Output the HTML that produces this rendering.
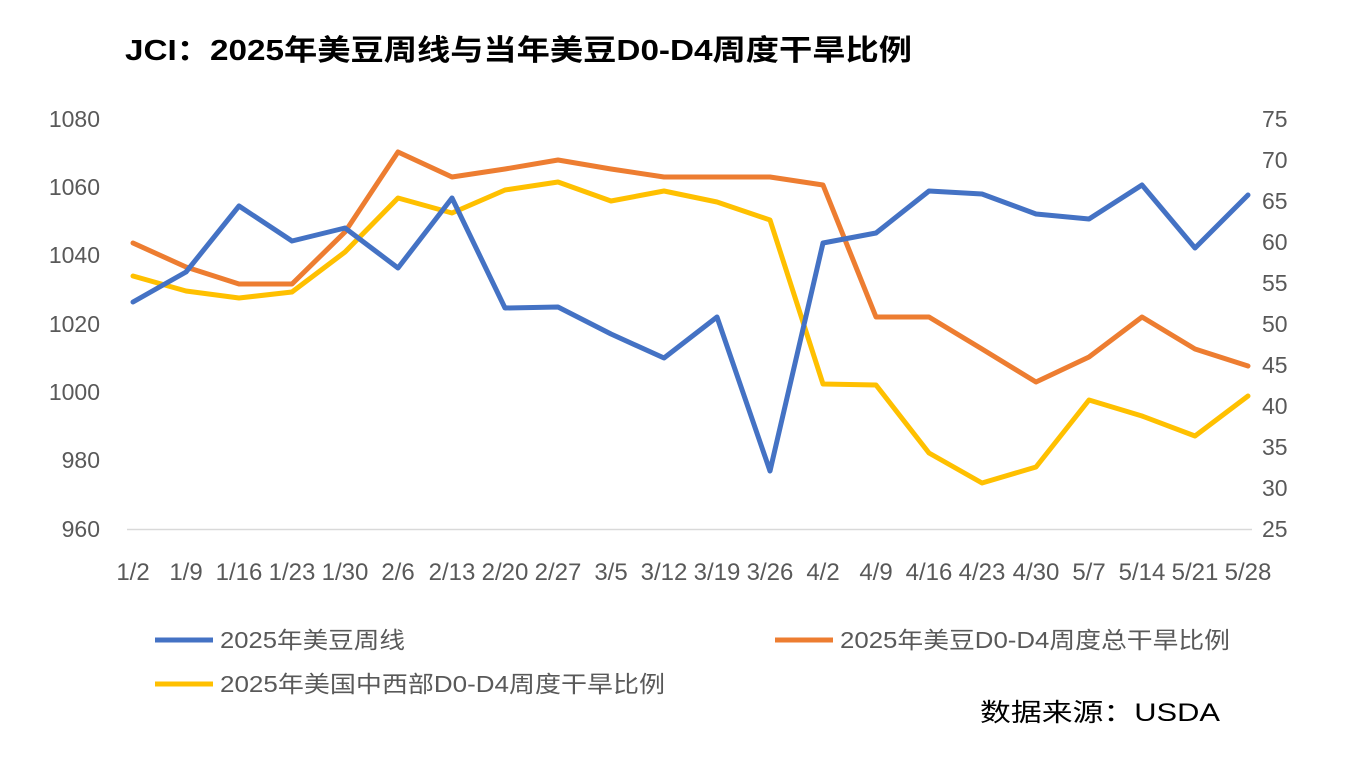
<!DOCTYPE html>
<html><head><meta charset="utf-8"><style>
body{margin:0;background:#fff;}
svg{display:block;font-family:"Liberation Sans","Noto Sans CJK SC",sans-serif;}
</style></head><body>
<svg width="1368" height="765" viewBox="0 0 1368 765">
<rect width="1368" height="765" fill="#fff"/>
<text x="125" y="60" font-size="29" font-weight="bold" fill="#000" textLength="787" lengthAdjust="spacingAndGlyphs">JCI：2025年美豆周线与当年美豆D0-D4周度干旱比例</text>
<line x1="127" y1="529.5" x2="1252" y2="529.5" stroke="#d9d9d9" stroke-width="1.5"/>
<g font-size="23" fill="#595959" text-anchor="end">
<text x="100" y="127">1080</text><text x="100" y="195">1060</text><text x="100" y="263">1040</text><text x="100" y="332">1020</text><text x="100" y="400">1000</text><text x="100" y="468">980</text><text x="100" y="537">960</text>
</g>
<g font-size="23" fill="#595959" text-anchor="start">
<text x="1262" y="127">75</text><text x="1262" y="168">70</text><text x="1262" y="209">65</text><text x="1262" y="250">60</text><text x="1262" y="291">55</text><text x="1262" y="332">50</text><text x="1262" y="373">45</text><text x="1262" y="414">40</text><text x="1262" y="455">35</text><text x="1262" y="496">30</text><text x="1262" y="537">25</text>
</g>
<g font-size="24" fill="#595959" text-anchor="middle">
<text x="133" y="580">1/2</text><text x="186" y="580">1/9</text><text x="239" y="580">1/16</text><text x="292" y="580">1/23</text><text x="345" y="580">1/30</text><text x="398" y="580">2/6</text><text x="452" y="580">2/13</text><text x="505" y="580">2/20</text><text x="558" y="580">2/27</text><text x="611" y="580">3/5</text><text x="664" y="580">3/12</text><text x="717" y="580">3/19</text><text x="770" y="580">3/26</text><text x="823" y="580">4/2</text><text x="876" y="580">4/9</text><text x="929" y="580">4/16</text><text x="982" y="580">4/23</text><text x="1036" y="580">4/30</text><text x="1089" y="580">5/7</text><text x="1142" y="580">5/14</text><text x="1195" y="580">5/21</text><text x="1248" y="580">5/28</text>
</g>
<g fill="none" stroke-width="5" stroke-linejoin="round" stroke-linecap="round">
<polyline stroke="#ed7d31" points="133,243 186,267 239,284 292,284 345,232 398,152 452,177 505,169 558,160 611,169 664,177 717,177 770,177 823,185 876,317 929,317 982,349 1036,382 1089,357 1142,317 1195,349 1248,366"/>
<polyline stroke="#ffc000" points="133,276 186,291 239,298 292,292 345,252 398,198 452,213 505,190 558,182 611,201 664,191 717,202 770,220 823,384 876,385 929,453 982,483 1036,467 1089,400 1142,416 1195,436 1248,396"/>
<polyline stroke="#4472c4" points="133,302 186,272 239,206 292,241 345,228 398,268 452,198 505,308 558,307 611,334 664,358 717,317 770,471 823,243 876,233 929,191 982,194 1036,214 1089,219 1142,185 1195,248 1248,195"/>
</g>
<line x1="155" y1="640" x2="213" y2="640" stroke="#4472c4" stroke-width="5"/>
<text x="220" y="648" font-size="23" fill="#595959" textLength="185" lengthAdjust="spacingAndGlyphs">2025年美豆周线</text>
<line x1="775" y1="640" x2="833" y2="640" stroke="#ed7d31" stroke-width="5"/>
<text x="840" y="648" font-size="23" fill="#595959" textLength="390" lengthAdjust="spacingAndGlyphs">2025年美豆D0-D4周度总干旱比例</text>
<line x1="155" y1="684" x2="213" y2="684" stroke="#ffc000" stroke-width="5"/>
<text x="220" y="692" font-size="23" fill="#595959" textLength="445" lengthAdjust="spacingAndGlyphs">2025年美国中西部D0-D4周度干旱比例</text>
<text x="980" y="721" font-size="25" fill="#000" textLength="240" lengthAdjust="spacingAndGlyphs">数据来源：USDA</text>
</svg>
</body></html>
